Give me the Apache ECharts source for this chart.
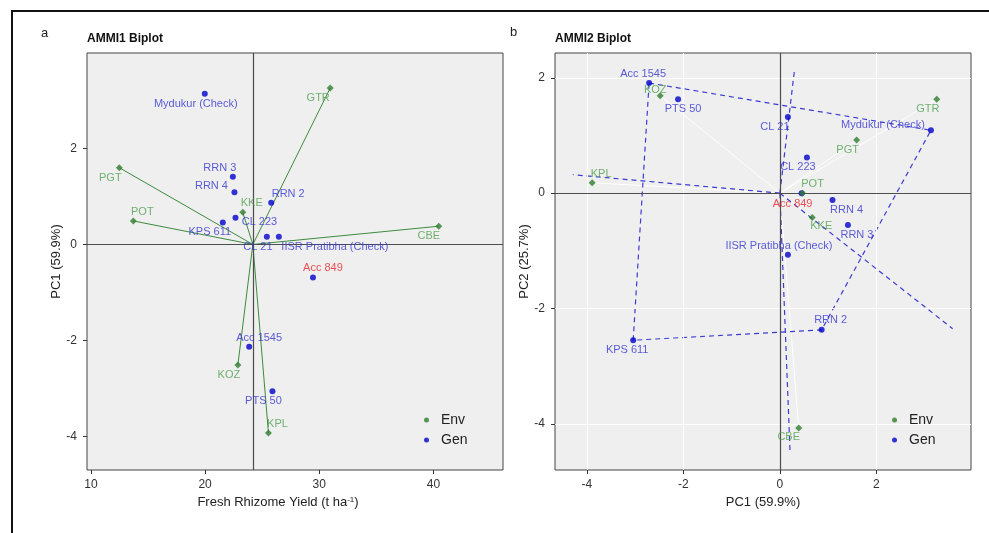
<!DOCTYPE html>
<html>
<head>
<meta charset="utf-8">
<script src="https://cdn.jsdelivr.net/npm/echarts@6/dist/echarts.min.js"></script>
<style>html,body{margin:0;padding:0;background:#fff}#main{width:989px;height:533px}</style>
</head>
<body>
<div id="main"></div>
<script>
// 环境 / 基因型名称
var envNames = ['GTR', 'PGT', 'POT', 'KKE', 'CBE', 'KOZ', 'KPL'];
var genNames = ['Mydukur (Check)', 'RRN 3', 'RRN 4', 'RRN 2', 'CL 223', 'KPS 611', 'CL 21',
    'IISR Pratibha (Check)', 'Acc 849', 'Acc 1545', 'PTS 50'];

// AMMI1: 产量 (x) 与 PC1 (y)
var grandMean = 24.18;
var env1Yield = [30.96, 12.48, 13.71, 23.3, 40.47, 22.87, 25.55];
var env1PC1 = [3.26, 1.60, 0.49, 0.67, 0.38, -2.51, -3.93];
var gen1Yield = [19.97, 22.43, 22.57, 25.79, 22.66, 21.55, 25.41, 26.46, 29.45, 23.86, 25.9];
var gen1PC1 = [3.14, 1.41, 1.09, 0.87, 0.555, 0.46, 0.16, 0.16, -0.69, -2.13, -3.06];

// AMMI2: PC1 (x) 与 PC2 (y)
var env2PC1 = [3.25, 1.59, 0.47, 0.67, 0.39, -2.48, -3.89];
var env2PC2 = [1.63, 0.92, 0.0, -0.42, -4.07, 1.69, 0.18];
var gen2PC1 = [3.13, 1.41, 1.09, 0.865, 0.56, -3.04, 0.166, 0.166, 0.45, -2.71, -2.11];
var gen2PC2 = [1.09, -0.55, -0.12, -2.37, 0.62, -2.55, 1.32, -1.07, 0.0, 1.91, 1.63];

// 多边形顶点和垂线端点
var hullGen = ['Acc 1545', 'Mydukur (Check)', 'RRN 2', 'KPS 611'];
var rayPC1 = [0.30, 3.58, 0.21, -4.29];
var rayPC2 = [2.12, -2.35, -4.47, 0.32];

// 刻度
var ticks1X = [10, 20, 30, 40];
var ticksPC = [-4, -2, 0, 2];

// 标签偏移（样式）
var lab1 = {GTR: [-12, 10], PGT: [-9, 10], POT: [9, -9], KKE: [9, -9], CBE: [-10, 10], KOZ: [-9, 10], KPL: [9, -9],
    'Mydukur (Check)': [-9, 10], 'RRN 3': [-13, -9], 'RRN 4': [-23, -6], 'RRN 2': [17, -9], 'CL 223': [24, 4],
    'KPS 611': [-13, 10], 'CL 21': [-9, 10], 'IISR Pratibha (Check)': [56, 10], 'Acc 849': [10, -10],
    'Acc 1545': [10, -9], 'PTS 50': [-9, 10]};
var lab2 = {GTR: [-9, 10], PGT: [-9, 10], POT: [10, -9], KKE: [9, 9], CBE: [-10, 9], KOZ: [-5, -6], KPL: [9, -9],
    'Mydukur (Check)': [-48, -5], 'RRN 3': [9, 10], 'RRN 4': [14, 10], 'RRN 2': [9, -10], 'CL 223': [-9, 10],
    'KPS 611': [-6, 10], 'CL 21': [-13, 10], 'IISR Pratibha (Check)': [-9, -9], 'Acc 849': [-9, 11],
    'Acc 1545': [-6, -9], 'PTS 50': [5, 10]};

var FONT = 'Liberation Sans, Arial, sans-serif';
var GREEN = '#2e7d2e', GREEN_TXT = '#4f9f4f', BLUE = '#0000cc', BLUE_TXT = '#3535d0', RED = '#e8262a';

function pts(names, xs, ys, offs, txtColor) {
    return names.map(function (n, i) {
        return {
            name: n, value: [xs[i], ys[i]],
            label: {offset: offs[n], color: n === 'Acc 849' ? RED : txtColor}
        };
    });
}

function axisX(idx, min, max, vals, name, pad) {
    return {
        type: 'value', gridIndex: idx, min: min, max: max,
        axisLine: {show: false, onZero: false},
        axisTick: {show: true, length: 4, customValues: vals, lineStyle: {color: '#333'}},
        axisLabel: {customValues: vals, margin: 9, color: '#333', fontSize: 12, fontFamily: FONT},
        splitLine: {show: false},
        name: name, nameLocation: 'middle', nameGap: 24,
        nameTextStyle: {color: '#222', fontSize: 13, fontFamily: FONT, padding: pad,
            rich: {sup: {fontSize: 8, verticalAlign: 'top', padding: [0, 0, 6, 0], color: '#222'}}}
    };
}
function axisY(idx, min, max, vals, name) {
    return {
        type: 'value', gridIndex: idx, min: min, max: max,
        axisLine: {show: false, onZero: false},
        axisTick: {show: true, length: 4, customValues: vals, lineStyle: {color: '#333'}},
        axisLabel: {customValues: vals, margin: 10, color: '#333', fontSize: 12, fontFamily: FONT},
        splitLine: {show: false},
        name: name, nameLocation: 'middle', nameGap: 24, nameRotate: 90,
        nameTextStyle: {color: '#222', fontSize: 13, fontFamily: FONT}
    };
}

var labelBase = {show: true, position: 'inside', formatter: '{b}', fontSize: 11, fontFamily: FONT};

function legendAt(x) {
    return {left: x, top: 410, orient: 'vertical', icon: 'circle', itemWidth: 5, itemHeight: 5, itemGap: 4,
        padding: [2, 4, 2, 2], backgroundColor: '#efefef', data: ['Env', 'Gen'],
        textStyle: {fontSize: 14, color: '#222', fontFamily: FONT, lineHeight: 16, padding: [0, 0, 0, 7]}};
}

// 左图：环境向量
var envVec1 = envNames.map(function (n, i) {
    return {coords: [[grandMean, 0], [env1Yield[i], env1PC1[i]]]};
});
// 右图：环境向量
var envVec2 = envNames.map(function (n, i) {
    return {coords: [[0, 0], [env2PC1[i], env2PC2[i]]]};
});
// 右图：多边形 + 垂线
var hull = hullGen.map(function (n) {
    var i = genNames.indexOf(n);
    return [gen2PC1[i], gen2PC2[i]];
});
hull.push(hull[0]);
var dashData = [{coords: hull}];
for (var r = 0; r < rayPC1.length; r++) {
    dashData.push({coords: [[0, 0], [rayPC1[r], rayPC2[r]]]});
}

var myChart = echarts.init(document.getElementById('main'));
var option = {
    animation: false,
    title: [
        {text: 'a', left: 41, top: 27, padding: 0, textStyle: {fontSize: 13, fontWeight: 'normal', color: '#222', fontFamily: FONT}},
        {text: 'AMMI1 Biplot', left: 87, top: 33, padding: 0, textStyle: {fontSize: 12, fontWeight: 'bold', color: '#111', fontFamily: FONT}},
        {text: 'b', left: 510, top: 26, padding: 0, textStyle: {fontSize: 13, fontWeight: 'normal', color: '#222', fontFamily: FONT}},
        {text: 'AMMI2 Biplot', left: 555, top: 33, padding: 0, textStyle: {fontSize: 12, fontWeight: 'bold', color: '#111', fontFamily: FONT}}
    ],
    legend: [legendAt(422), legendAt(890)],
    graphic: [
        {type: 'polyline', shape: {points: [[12, 533], [12, 11], [989, 11]]}, style: {stroke: '#111', lineWidth: 2, fill: null}}
    ],
    grid: [
        {left: 87, top: 53, width: 416, height: 417, show: true, backgroundColor: '#efefef', borderColor: '#444', borderWidth: 1},
        {left: 555, top: 53, width: 416, height: 417, show: true, backgroundColor: '#efefef', borderColor: '#444', borderWidth: 1}
    ],
    xAxis: [
        axisX(0, 9.65, 46.1, ticks1X, 'Fresh Rhizome Yield (t ha{sup|-1})', [0, 34, 0, 0]),
        axisX(1, -4.66, 3.96, ticksPC, 'PC1 (59.9%)', 0)
    ],
    yAxis: [
        axisY(0, -4.7, 3.99, ticksPC, 'PC1 (59.9%)'),
        axisY(1, -4.8, 2.43, ticksPC, 'PC2 (25.7%)')
    ],
    series: [
        // 左图参考线
        {type: 'scatter', xAxisIndex: 0, yAxisIndex: 0, data: [], z: 1, silent: true,
            markLine: {silent: true, symbol: ['none', 'none'], label: {show: false},
                lineStyle: {color: '#4d4d4d', width: 1.2, type: 'solid'},
                data: [{xAxis: grandMean}, {yAxis: 0}]}},
        {type: 'lines', coordinateSystem: 'cartesian2d', xAxisIndex: 0, yAxisIndex: 0, z: 3, silent: true,
            lineStyle: {color: '#3d8b3d', width: 1, opacity: 1}, data: envVec1},
        {name: 'Gen', type: 'scatter', xAxisIndex: 0, yAxisIndex: 0, z: 5, symbol: 'circle', symbolSize: 6,
            itemStyle: {color: BLUE}, label: labelBase, data: pts(genNames, gen1Yield, gen1PC1, lab1, BLUE_TXT)},
        {name: 'Env', type: 'scatter', xAxisIndex: 0, yAxisIndex: 0, z: 6, symbol: 'diamond', symbolSize: 7,
            itemStyle: {color: GREEN}, label: labelBase, data: pts(envNames, env1Yield, env1PC1, lab1, GREEN_TXT)},

        // 右图网格线
        {type: 'scatter', xAxisIndex: 1, yAxisIndex: 1, data: [], z: 1, silent: true,
            markLine: {silent: true, symbol: ['none', 'none'], label: {show: false},
                lineStyle: {color: '#ffffff', width: 1, type: 'solid'},
                data: [{xAxis: -4}, {xAxis: -2}, {xAxis: 2}, {yAxis: 2}, {yAxis: -2}, {yAxis: -4}]}},
        {type: 'scatter', xAxisIndex: 1, yAxisIndex: 1, data: [], z: 2, silent: true,
            markLine: {silent: true, symbol: ['none', 'none'], label: {show: false},
                lineStyle: {color: '#4d4d4d', width: 1.2, type: 'solid'},
                data: [{xAxis: 0}, {yAxis: 0}]}},
        {type: 'lines', coordinateSystem: 'cartesian2d', xAxisIndex: 1, yAxisIndex: 1, z: 3, silent: true,
            lineStyle: {color: '#ffffff', width: 1, opacity: 1}, data: envVec2},
        {type: 'lines', coordinateSystem: 'cartesian2d', xAxisIndex: 1, yAxisIndex: 1, z: 4, silent: true, polyline: true,
            lineStyle: {color: '#3b3bd4', width: 1.2, opacity: 1, type: [5, 4]}, data: dashData},
        {name: 'Gen', type: 'scatter', xAxisIndex: 1, yAxisIndex: 1, z: 5, symbol: 'circle', symbolSize: 6,
            itemStyle: {color: BLUE}, label: labelBase, data: pts(genNames, gen2PC1, gen2PC2, lab2, BLUE_TXT)},
        {name: 'Env', type: 'scatter', xAxisIndex: 1, yAxisIndex: 1, z: 6, symbol: 'diamond', symbolSize: 7,
            itemStyle: {color: GREEN}, label: labelBase, data: pts(envNames, env2PC1, env2PC2, lab2, GREEN_TXT)}
    ]
};
myChart.setOption(option);
</script>
</body>
</html>
